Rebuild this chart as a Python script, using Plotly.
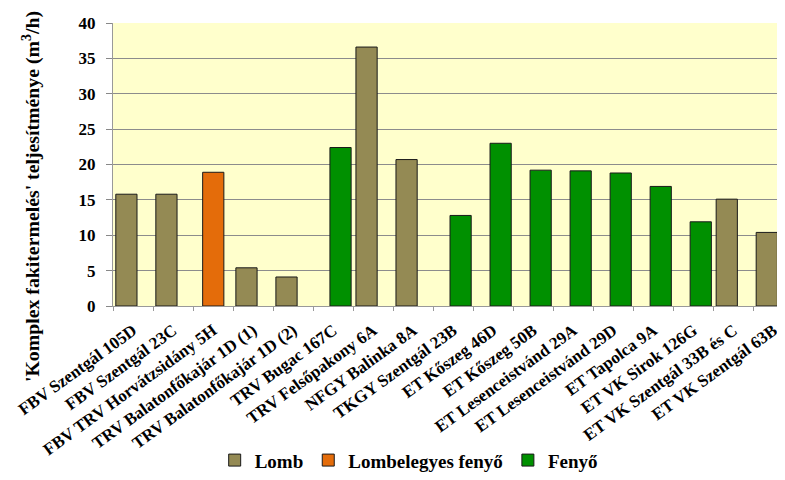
import plotly.graph_objects as go

categories = [
    "FBV Szentgál 105D", "FBV Szentgál 23C", "FBV TRV Horvátzsidány 5H",
    "TRV Balatonfőkajár 1D (1)", "TRV Balatonfőkajár 1D (2)", "TRV Bugac 167C",
    "TRV Felsőpakony 6A", "NFGY Balinka 8A", "TKGY Szentgál 23B", "ET Kőszeg 46D",
    "ET Kőszeg 50B", "ET Lesenceistvánd 29A", "ET Lesenceistvánd 29D",
    "ET Tapolca 9A", "ET VK Sirok 126G", "ET VK Szentgál 33B és C", "ET VK Szentgál 63B",
]
lomb = [15.8, 15.8, None, 5.4, 4.1, None, 36.6, 20.7, None, None, None, None, None, None, None, 15.1, 10.4]
lombelegyes = [None, None, 18.9, None, None, None, None, None, None, None, None, None, None, None, None, None, None]
fenyo = [None, None, None, None, None, 22.4, None, None, 12.8, 23.0, 19.2, 19.1, 18.8, 16.9, 11.9, None, None]

font_family = "Liberation Serif, Times New Roman, serif"
series = [
    ("Lomb", lomb, "#948A54", -0.43),
    ("Lombelegyes fenyő", lombelegyes, "#E46C0A", -0.26),
    ("Fenyő", fenyo, "#009000", -0.08),
]

fig = go.Figure()
for name, vals, color, off in series:
    fig.add_trace(go.Bar(
        name=name, x=categories, y=vals, offset=off, width=0.53,
        marker=dict(color=color, line=dict(color="#1a1a1a", width=1)),
    ))

fig.update_layout(
    width=777, height=472,
    barmode="overlay",
    paper_bgcolor="white", plot_bgcolor="#FFFFCC",
    margin=dict(l=105, r=0, t=15, b=171),
    font=dict(family=font_family, size=16, color="black", weight="bold"),
    showlegend=True,
    legend=dict(orientation="h", x=0.44, xanchor="center", y=-0.545, yanchor="middle",
                font=dict(size=19, family=font_family, weight="bold"),
                itemwidth=30, traceorder="normal"),
    xaxis=dict(
        type="category", range=[-0.5, 16.29], tickangle=-36, automargin=False,
        ticks="outside", tickson="boundaries", ticklen=4, tickcolor="#999999",
        ticklabelstandoff=7,
        showline=True, linecolor="#999999", linewidth=1, showgrid=False,
        tickfont=dict(size=17, family=font_family, weight="bold"),
    ),
    yaxis=dict(
        range=[0, 40], dtick=5, ticks="outside", ticklen=6, tickcolor="#888888",
        ticklabelstandoff=7,
        showgrid=True, gridcolor="#8c8c8c", gridwidth=1, automargin=False,
        showline=True, linecolor="#999999", linewidth=1, zeroline=False,
        tickfont=dict(size=17, family=font_family, weight="bold"),
    ),
    annotations=[dict(
        text="'Komplex fakitermelés' teljesítménye (m<sup>3</sup>/h)",
        xref="paper", yref="paper", x=-0.122, y=0.385, xanchor="center", yanchor="middle",
        textangle=-90, showarrow=False,
        font=dict(size=19.8, family=font_family, weight="bold"),
    )],
)

fig.write_html("out.html")
